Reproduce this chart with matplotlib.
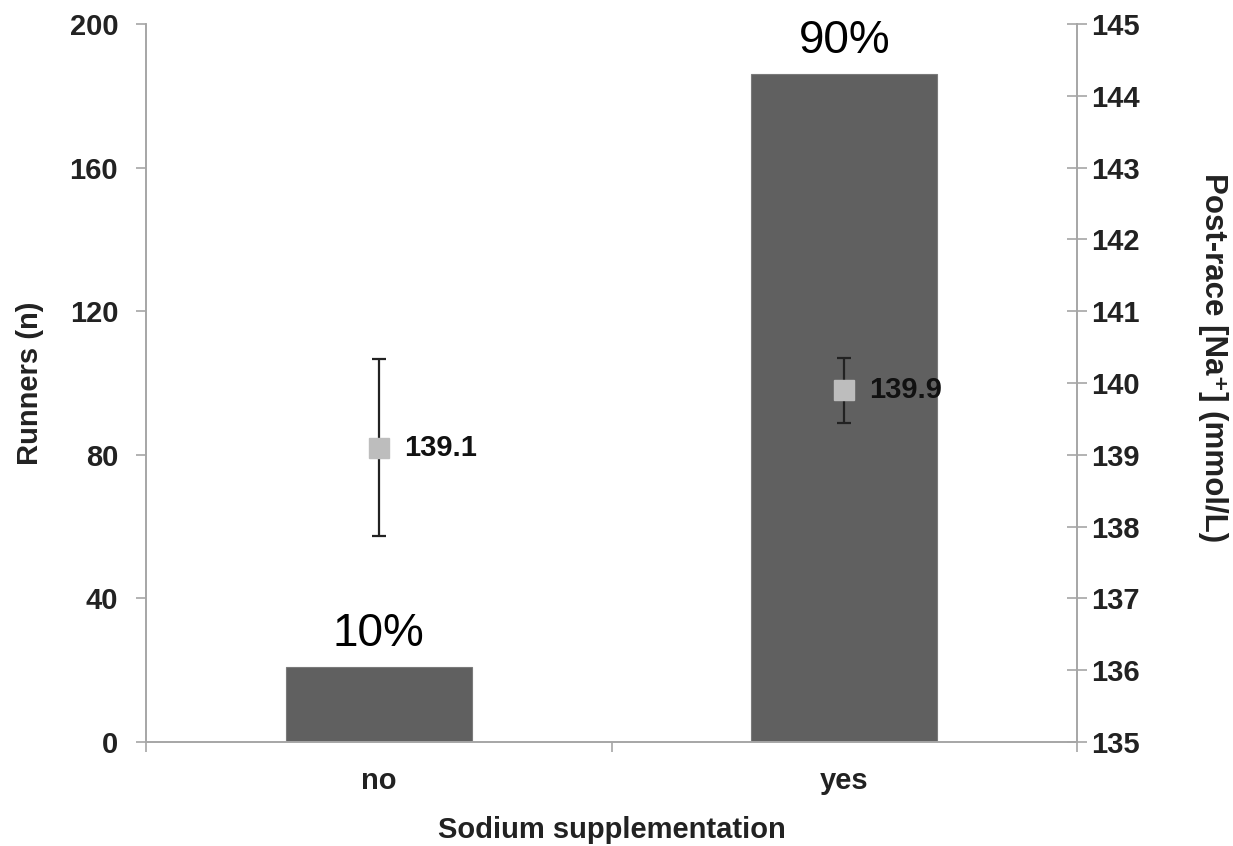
import matplotlib.pyplot as plt
import numpy as np

plt.rcParams['font.family'] = ['Liberation Sans', 'DejaVu Sans']

# data
groups = ['no', 'yes']
runners = [21, 186]
shares = ['10%', '90%']
sodium = [139.1, 139.9]
sodium_err = [1.23, 0.45]

bar_col = '#606060'
axis_col = '#a6a6a6'

fig = plt.figure(figsize=(12.33, 8.46), dpi=100)
ax = fig.add_axes([0.1184, 0.1229, 0.8735 - 0.1184, 0.9716 - 0.1229])
ax2 = ax.twinx()

x = np.arange(len(groups))
bars = ax.bar(x, runners, width=0.4, color=bar_col, edgecolor='#7a7a7a', linewidth=0.8, zorder=2)
for xi, h, s in zip(x, runners, shares):
    ax.annotate(s, (xi, h), xytext=(0, 8), textcoords='offset points',
                ha='center', va='bottom', fontsize=33)

ax.set_xlim(-0.5, 1.5)
ax.set_ylim(0, 200)
ax.set_yticks([0, 40, 80, 120, 160, 200])
ax.set_xticks([-0.5, 0.5, 1.5])
ax.set_xticklabels([])
ax.set_xticks(x, minor=True)
ax.set_xticklabels(groups, minor=True, fontsize=21, fontweight='bold', color='#222222')
ax.tick_params(axis='x', which='minor', length=0, pad=18)
ax.tick_params(axis='x', which='major', direction='out', length=7, color=axis_col, width=1.2)
ax.tick_params(axis='y', direction='out', length=7, color=axis_col, width=1.2,
               labelsize=21, pad=13, labelcolor='#222222')
for lab in ax.get_yticklabels():
    lab.set_fontweight('bold')
ax.set_ylabel('Runners (n)', fontsize=21, fontweight='bold', va='center', color='#222222')
ax.yaxis.set_label_coords(-0.1246, 0.5)
ax.set_xlabel('Sodium supplementation', fontsize=21, fontweight='bold', labelpad=15, color='#222222')

ax2.set_ylim(135, 145)
ax2.set_yticks(np.arange(135, 146, 1))
ax2.tick_params(axis='y', direction='inout', length=14, color=axis_col, width=1.2,
                labelsize=21, pad=3, labelcolor='#222222')
for lab in ax2.get_yticklabels():
    lab.set_fontweight('bold')
ax2.errorbar(x, sodium, yerr=sodium_err, fmt='s', color='#bdbdbd', markersize=15,
             ecolor='#222222', elinewidth=1.6, capsize=5, capthick=1.6, zorder=3)
for xi, v in zip(x, sodium):
    ax2.annotate(f'{v:.1f}', (xi, v), xytext=(18, 0), textcoords='offset points',
                 ha='left', va='center', fontsize=21, fontweight='bold', color='#111111')
ax2.set_ylabel('Post-race [Na\u207a] (mmol/L)', fontsize=22.5, fontweight='bold',
               rotation=270, va='center', color='#222222')
ax2.yaxis.set_label_coords(1.146, 0.535)

for a in (ax, ax2):
    a.spines['top'].set_visible(False)
    for s in ('left', 'right', 'bottom'):
        a.spines[s].set_color(axis_col)
        a.spines[s].set_linewidth(1.2)

fig.savefig('out.png', dpi=100)
